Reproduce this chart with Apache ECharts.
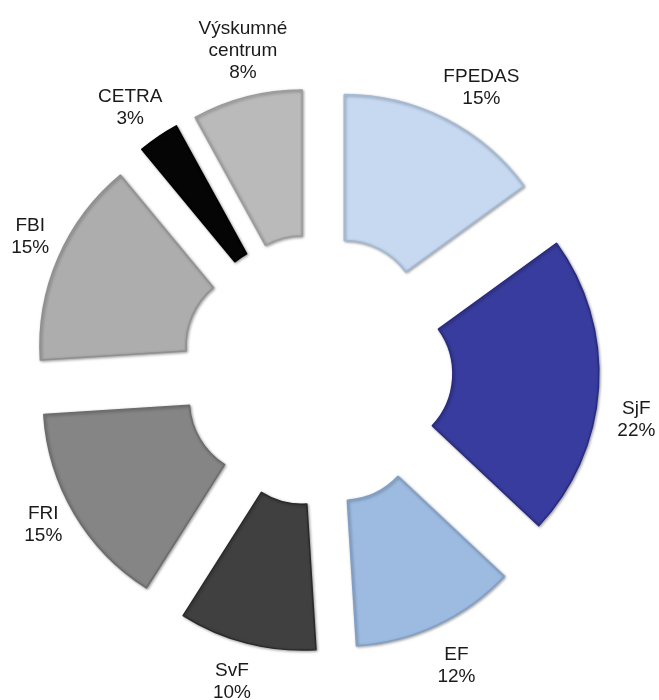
<!DOCTYPE html>
<html>
<head>
    <meta charset="utf-8">
    <script src="https://cdn.jsdelivr.net/npm/echarts@6/dist/echarts.min.js"></script>
</head>
<body style="margin:0;background:#fff;">
<div id="main" style="width:659px;height:700px;"></div>
<script type="text/javascript">
// data
var names = ['FPEDAS', 'SjF', 'EF', 'SvF', 'FRI', 'FBI', 'CETRA', 'Výskumné\ncentrum'];
var values = [15, 22, 12, 10, 15, 15, 3, 8];

// styling (kept apart from the data)
var colors = ['#c6d9f1', '#383c9e', '#9dbbe1', '#404040', '#858585', '#adadad', '#050505', '#bababa'];
var borders = ['#a3b9d4', '#282b80', '#809fc8', '#2a2a2a', '#6c6c6c', '#909090', '#000000', '#9c9c9c'];
// small label nudges so the labels sit where the original puts them
var labelNudge = [[20, 1], [2, 30], [4, 8], [-6, 4], [0, -7], [5, -7], [-8, 1], [5, -11]];

var myChart = echarts.init(document.getElementById('main'));

var sliceData = [];
var labelData = [];
for (var i = 0; i < names.length; i++) {
    sliceData.push({
        name: names[i],
        value: values[i],
        selected: true,
        itemStyle: {
            color: colors[i],
            borderColor: borders[i],
            borderWidth: 1.5,
            shadowBlur: 3,
            shadowOffsetX: 1,
            shadowOffsetY: 1,
            shadowColor: 'rgba(0,0,0,0.35)'
        }
    });
    labelData.push({
        name: names[i],
        value: values[i],
        label: { offset: labelNudge[i] }
    });
}

var option = {
    animation: false,
    series: [
        {
            // exploded doughnut
            type: 'pie',
            center: [317, 370],
            radius: [76, 222],
            startAngle: 90,
            selectedMode: 'multiple',
            selectedOffset: 60,
            label: { show: false },
            labelLine: { show: false },
            emphasis: { disabled: true },
            data: sliceData
        },
        {
            // invisible ring only carrying the labels
            type: 'pie',
            center: [317, 370],
            radius: [300, 330],
            startAngle: 90,
            silent: true,
            itemStyle: { color: 'rgba(0,0,0,0)' },
            label: {
                show: true,
                position: 'inside',
                formatter: '{b}\n{d}%',
                color: '#1a1a1a',
                fontFamily: 'Liberation Sans, Arial, sans-serif',
                fontSize: 19,
                lineHeight: 22,
                align: 'center'
            },
            labelLine: { show: false },
            emphasis: { disabled: true },
            data: labelData
        }
    ]
};

myChart.setOption(option);
</script>
</body>
</html>
